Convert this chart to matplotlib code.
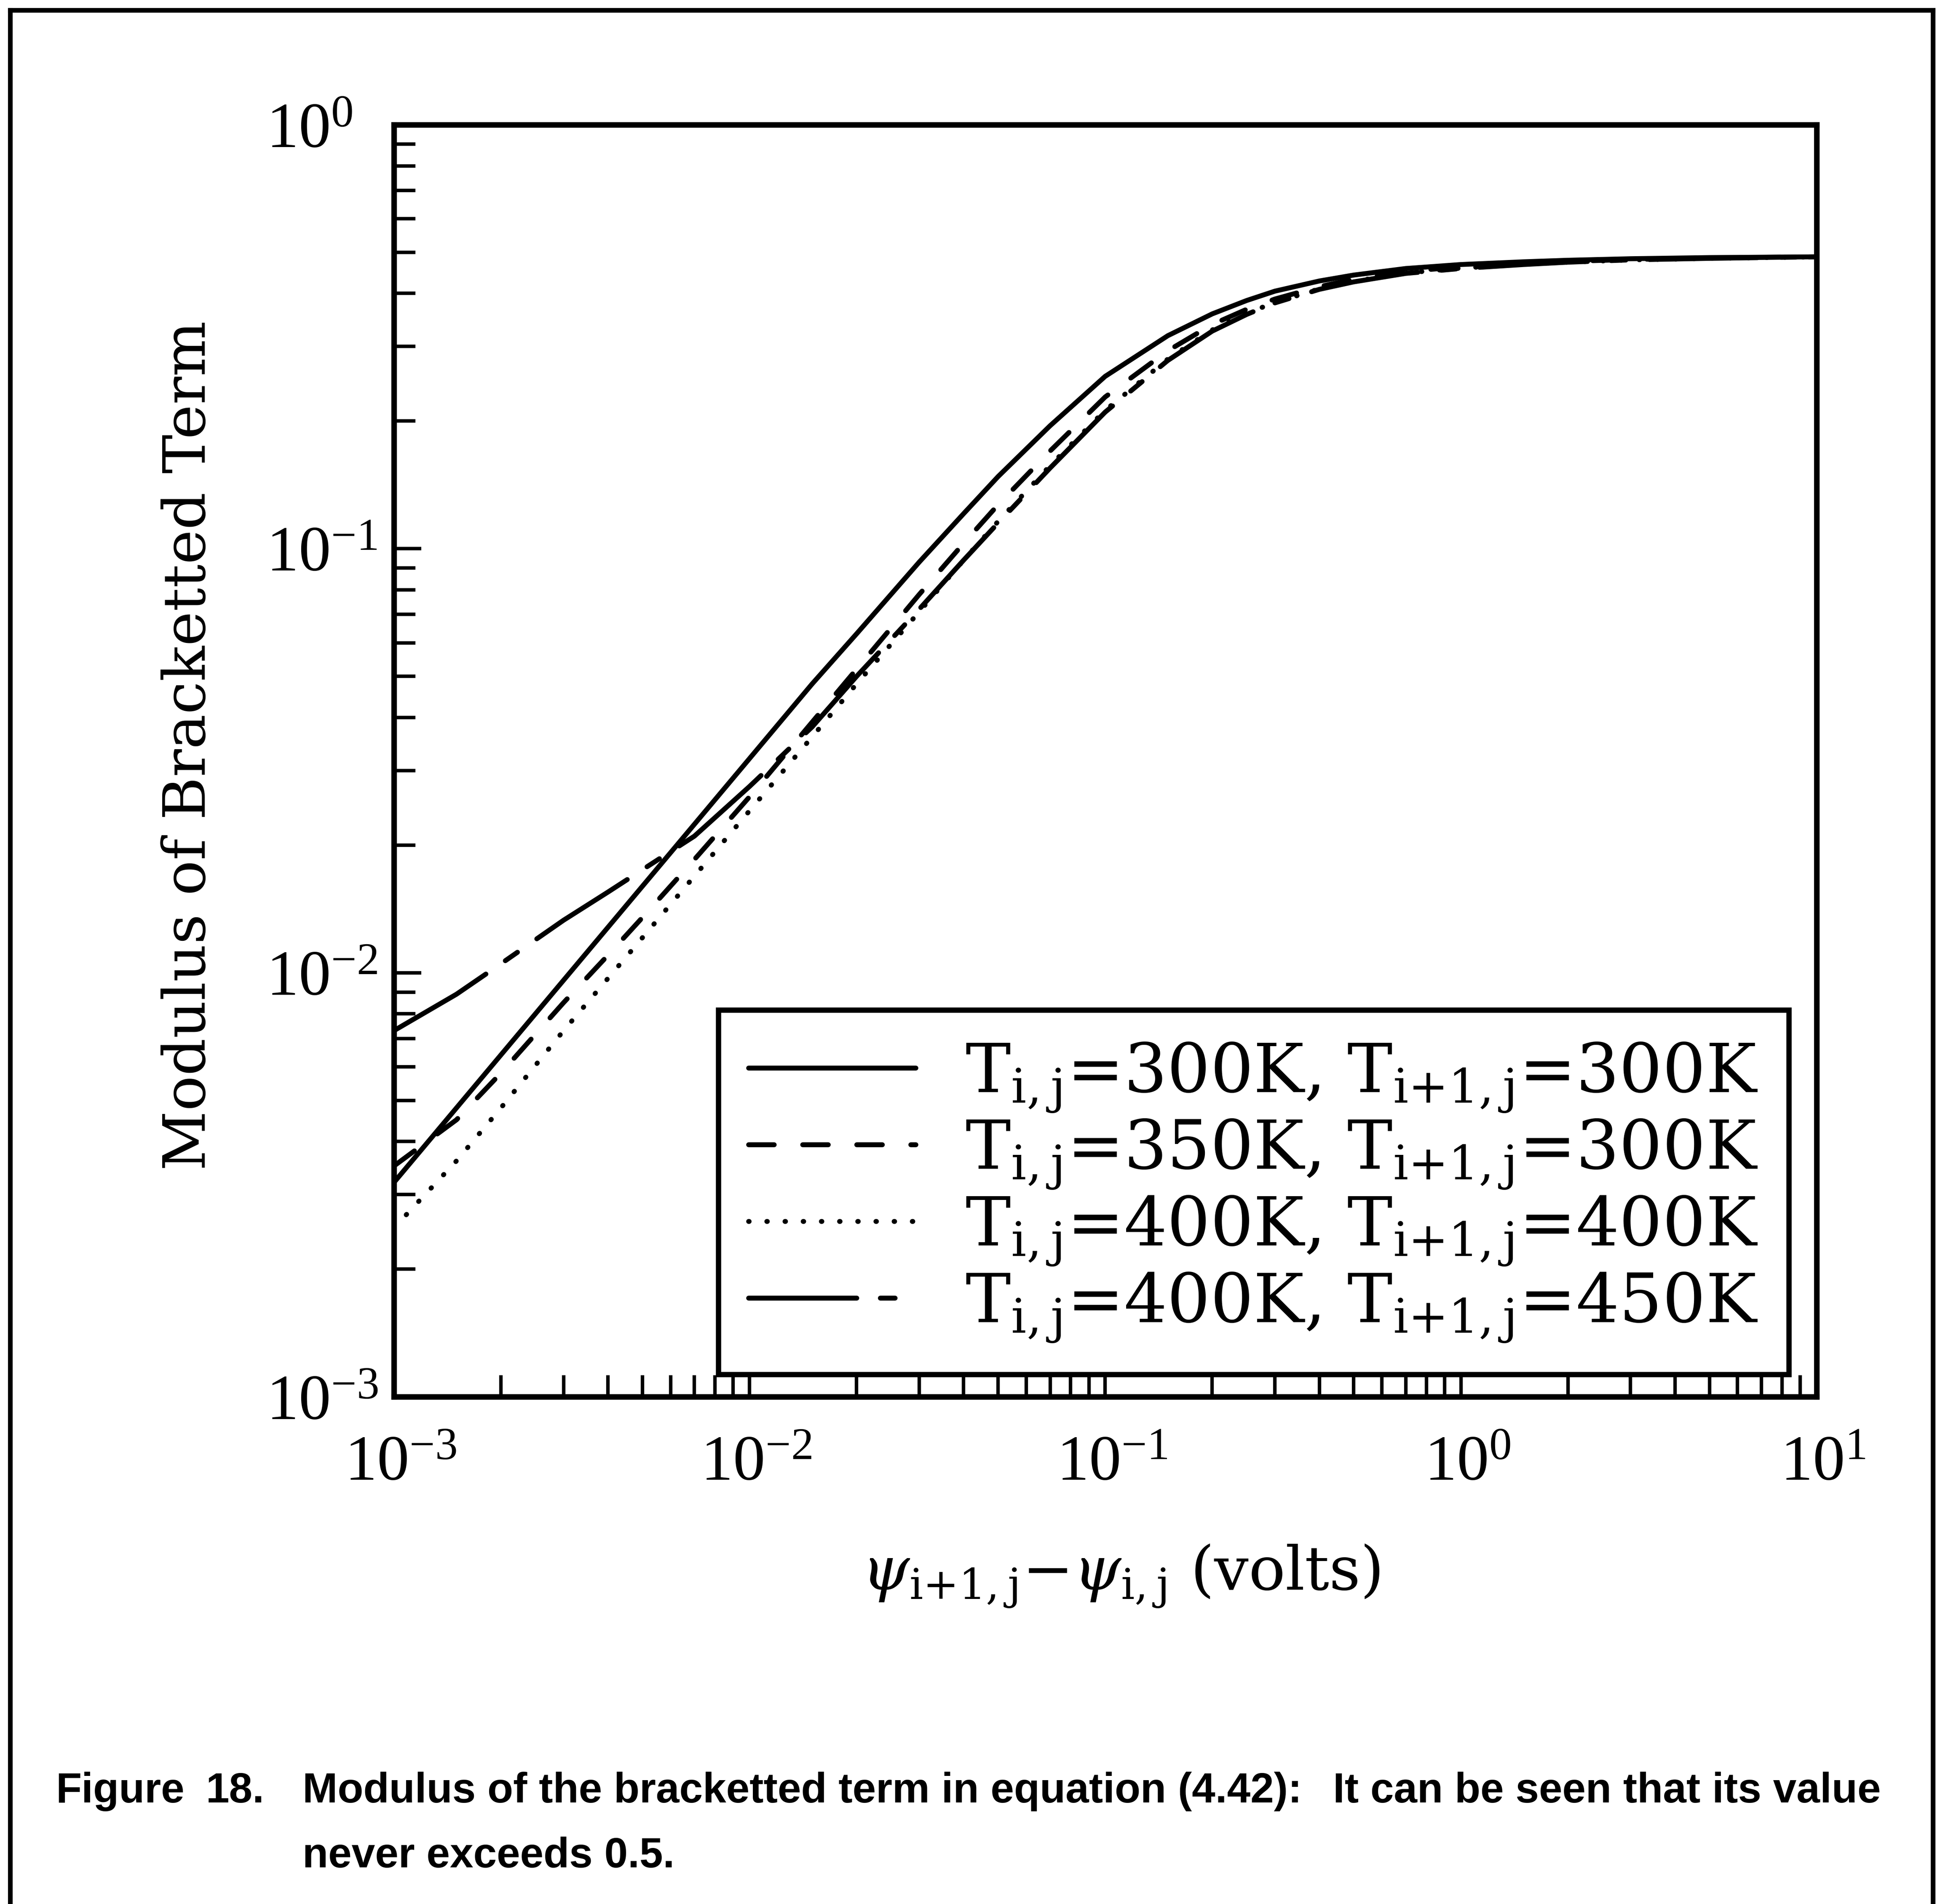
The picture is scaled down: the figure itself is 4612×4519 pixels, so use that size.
import numpy as np
from matplotlib import pyplot as plt
from matplotlib.lines import Line2D
from matplotlib.transforms import ScaledTranslation

psi = [1e-3, 1.5e-3, 2e-3, 3e-3, 4e-3, 5e-3, 7e-3, 1e-2, 1.5e-2, 2e-2, 3e-2, 4e-2, 5e-2,
       7e-2, 0.1, 0.15, 0.2, 0.25, 0.3, 0.4, 0.5, 0.7, 1.0, 1.5, 2.0, 3.0, 5.0, 10.0]

mod_300_300 = [0.0032, 0.0048, 0.0064, 0.0096, 0.0128, 0.016, 0.0224, 0.032, 0.048, 0.063,
               0.093, 0.121, 0.148, 0.195, 0.255, 0.318, 0.358, 0.385, 0.405, 0.428,
               0.442, 0.458, 0.468, 0.475, 0.479, 0.483, 0.486, 0.488]
mod_350_300 = [0.0035, 0.0045, 0.0058, 0.0085, 0.011, 0.0135, 0.0185, 0.026, 0.039, 0.052,
               0.078, 0.103, 0.127, 0.170, 0.228, 0.293, 0.338, 0.367, 0.388, 0.415,
               0.432, 0.451, 0.462, 0.471, 0.476, 0.481, 0.485, 0.488]
mod_400_400 = [0.0025, 0.0036, 0.0048, 0.0073, 0.0097, 0.0121, 0.0169, 0.0241, 0.036, 0.048,
               0.071, 0.094, 0.116, 0.157, 0.212, 0.280, 0.328, 0.359, 0.381, 0.410,
               0.427, 0.447, 0.459, 0.469, 0.474, 0.480, 0.484, 0.488]
mod_400_450 = [0.0073, 0.0089, 0.0105, 0.0133, 0.0155, 0.0175, 0.021, 0.0275, 0.038, 0.050,
               0.072, 0.094, 0.115, 0.155, 0.210, 0.278, 0.326, 0.357, 0.380, 0.409,
               0.426, 0.446, 0.458, 0.468, 0.474, 0.480, 0.484, 0.488]

labels = [r'T$_{\rm i,j}$=300K, T$_{\rm i{+}1,j}$=300K',
          r'T$_{\rm i,j}$=350K, T$_{\rm i{+}1,j}$=300K',
          r'T$_{\rm i,j}$=400K, T$_{\rm i{+}1,j}$=400K',
          r'T$_{\rm i,j}$=400K, T$_{\rm i{+}1,j}$=450K']
styles = ['-', (0, (5.2, 5.8)), (0, (0.1, 3.6)), (0, (22, 4.8, 3, 4.8))]

plt.rcParams['font.family'] = 'DejaVu Serif'
plt.rcParams['mathtext.fontset'] = 'dejavuserif'

fig = plt.figure(figsize=(46.12, 45.19), dpi=100)
ax = fig.add_axes([0.2027, 0.2664, 0.7322, 0.6681])

for series, ls, lab in zip([mod_300_300, mod_350_300, mod_400_400, mod_400_450], styles, labels):
    ax.plot(psi, series, color='black', linestyle=ls, linewidth=8.4,
            dash_capstyle='round', solid_capstyle='round', label=lab)

ax.set_xscale('log')
ax.set_yscale('log')
ax.set_xlim(1e-3, 10)
ax.set_ylim(1e-3, 1)

for sp in ax.spines.values():
    sp.set_linewidth(9.5)

ax.tick_params(which='both', direction='in', top=False, right=False, width=6, color='black')
ax.tick_params(which='major', length=47)
ax.tick_params(which='minor', length=37)
ax.tick_params(axis='y', which='major', pad=218, labelsize=110, labelfontfamily='Liberation Serif')
ax.tick_params(axis='x', which='major', pad=66, labelsize=110, labelfontfamily='Liberation Serif')
for lbl in ax.get_yticklabels():
    lbl.set_horizontalalignment('left')

ax.set_ylabel('Modulus of Bracketted Term', fontsize=100)
ax.yaxis.set_label_coords(-0.124, 0.512)
ax.set_xlabel(r'$\psi_{\rm i{+}1,j}{-}\psi_{\rm i,j}$ (volts)', fontsize=104)
ax.xaxis.set_label_coords(0.511, -0.115)

leg = ax.legend(loc='upper left', bbox_to_anchor=(0.228, 0.304), borderaxespad=0,
                fontsize=116, handlelength=2.46, handletextpad=0.73, borderpad=0.45,
                labelspacing=0.05, fancybox=False, edgecolor='black', framealpha=1)
leg.get_frame().set_linewidth(9)

# nudge x tick labels so the "10" sits on the tick rather than the whole label
fig.canvas.draw()
for tick in ax.xaxis.get_major_ticks():
    lbl = tick.label1
    lbl.set_transform(lbl.get_transform() + ScaledTranslation(0.16, 0, fig.dpi_scale_trans))

#####* page frame around the figure
fx0, fx1, fy1 = 24 / 4612, 4588 / 4612, 1 - 24 / 4519
for xs, ys in [([fx0, fx0], [0, fy1]), ([fx0, fx1], [fy1, fy1]), ([fx1, fx1], [fy1, 0])]:
    fig.add_artist(Line2D(xs, ys, transform=fig.transFigure, color='black', linewidth=8))

#####* caption
cap = dict(fontsize=72, fontweight='bold', family=['Liberation Sans', 'DejaVu Sans'], va='baseline')
y1, y2 = 1 - 4278 / 4519, 1 - 4432 / 4519
fig.text(132 / 4612, y1, 'Figure', **cap)
fig.text(489 / 4612, y1, '18.', **cap)
fig.text(718 / 4612, y1, 'Modulus of the bracketted term in equation (4.42):', **cap)
fig.text(3164 / 4612, y1, 'It can be seen that its value', **cap)
fig.text(718 / 4612, y2, 'never exceeds 0.5.', **cap)

fig.savefig('out.png', dpi=100)
